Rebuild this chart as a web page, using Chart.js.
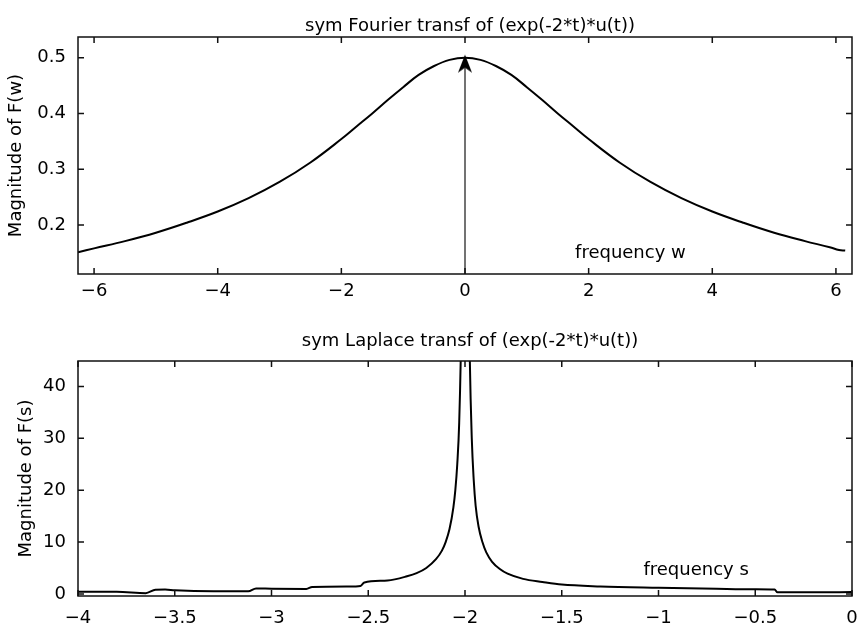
<!DOCTYPE html>
<html>
<head>
<meta charset="utf-8">
<script src="https://cdn.jsdelivr.net/npm/chart.js@4.4.1/dist/chart.umd.min.js"></script>
<style>
    body { margin: 0; background: #fff; overflow: hidden; }
    .panel { position: absolute; left: 0; width: 857px; }
    #topPanel { top: 0; height: 310px; }
    #bottomPanel { top: 310px; height: 317px; }
</style>
</head>
<body>
<div class="panel" id="topPanel"><canvas id="fourierChart"></canvas></div>
<div class="panel" id="bottomPanel"><canvas id="laplaceChart"></canvas></div>
<script>
const fontFamily = '"DejaVu Sans", sans-serif';

// top plot: |F(w)|
const wValues = [-6.26, -6, -5.5, -5, -4.5, -4, -3.5, -3, -2.5, -2, -1.75, -1.5, -1.25, -1, -0.75, -0.5, -0.25, 0,
    0.25, 0.5, 0.75, 1, 1.25, 1.5, 1.75, 2, 2.5, 3, 3.5, 4, 4.5, 5, 5.5, 5.9, 6.05, 6.15];
const fourierMag = [0.151, 0.158, 0.171, 0.186, 0.204, 0.224, 0.248, 0.277, 0.312, 0.354, 0.377, 0.400, 0.424, 0.447, 0.469, 0.485, 0.496, 0.500,
    0.496, 0.485, 0.469, 0.447, 0.424, 0.400, 0.377, 0.354, 0.312, 0.277, 0.248, 0.224, 0.204, 0.186, 0.171, 0.160, 0.155, 0.154];
const arrowW = [0, 0];
const arrowMag = [0.112, 0.5];
const wTicks = [-6, -4, -2, 0, 2, 4, 6];
const fourierTicks = [0.2, 0.3, 0.4, 0.5];

// bottom plot: |F(s)|
const sValues = [-4, -3.8, -3.65, -3.6, -3.55, -3.5, -3.3, -3.12, -3.08, -3.0, -2.82, -2.79, -2.6, -2.54, -2.52, -2.4,
    -2.3, -2.25, -2.2, -2.15, -2.12, -2.1, -2.08, -2.06, -2.05, -2.04, -2.03, -2.02, -2.0,
    -1.975, -1.965, -1.955, -1.945, -1.93, -1.91, -1.89, -1.86, -1.82, -1.78, -1.7, -1.6, -1.5, -1.3,
    -1.0, -0.7, -0.5, -0.4, -0.385, -0.2, 0];
const laplaceMag = [0.4, 0.4, 0.15, 0.8, 0.85, 0.7, 0.5, 0.5, 1.05, 1.0, 0.95, 1.35, 1.45, 1.55, 2.2, 2.6,
    3.4, 4.0, 5.0, 6.7, 8.3, 10, 12.5, 16.7, 20, 25, 33, 50, 120,
    45, 30, 22, 17, 13, 10, 8, 6.2, 4.8, 3.9, 2.9, 2.3, 1.8, 1.45,
    1.2, 1.0, 0.9, 0.85, 0.3, 0.3, 0.35];
const sTicks = [-4, -3.5, -3, -2.5, -2, -1.5, -1, -0.5, 0];
const laplaceTicks = [0, 10, 20, 30, 40];

function toPoints(xs, ys) {
    return xs.map((v, i) => ({ x: v, y: ys[i] }));
}

function formatTick(value) {
    return String(value).replace('-', '\u2212');
}

function makeArrowHead() {
    const c = document.createElement('canvas');
    c.width = 14;
    c.height = 36;
    const g = c.getContext('2d');
    g.fillStyle = '#000';
    g.beginPath();
    g.moveTo(7, 15);
    g.lineTo(14, 33);
    g.lineTo(7, 28);
    g.lineTo(0, 33);
    g.closePath();
    g.fill();
    return c;
}

const framePlugin = {
    id: 'frame',
    afterDraw(chart, args, opts) {
        const { ctx, chartArea: a, scales: { x, y } } = chart;
        ctx.save();
        ctx.strokeStyle = '#111';
        ctx.lineWidth = 1.5;
        ctx.strokeRect(a.left, a.top, a.width, a.height);
        ctx.beginPath();
        x.ticks.forEach(t => {
            const px = x.getPixelForValue(t.value);
            ctx.moveTo(px, a.bottom); ctx.lineTo(px, a.bottom - 6);
            ctx.moveTo(px, a.top); ctx.lineTo(px, a.top + 6);
        });
        y.ticks.forEach(t => {
            const py = y.getPixelForValue(t.value);
            ctx.moveTo(a.left, py); ctx.lineTo(a.left + 6, py);
            ctx.moveTo(a.right, py); ctx.lineTo(a.right - 6, py);
        });
        ctx.stroke();

        ctx.font = '18px ' + fontFamily;
        ctx.fillStyle = '#000';
        ctx.textBaseline = 'alphabetic';
        ctx.textAlign = 'center';
        ctx.fillText(opts.title, (a.left + a.right) / 2 + 5, opts.titleY);
        ctx.textAlign = 'left';
        ctx.fillText(opts.note, x.getPixelForValue(opts.noteX), y.getPixelForValue(opts.noteY));
        ctx.restore();
    }
};

function buildOptions(cfg) {
    return {
        responsive: true,
        maintainAspectRatio: false,
        animation: false,
        layout: { autoPadding: false, padding: { top: cfg.top, right: 5, bottom: 0, left: 0 } },
        plugins: {
            legend: { display: false },
            tooltip: { enabled: false },
            frame: cfg.frame
        },
        scales: {
            x: {
                type: 'linear',
                min: cfg.xMin,
                max: cfg.xMax,
                grid: { display: false, drawTicks: false },
                border: { display: false },
                afterBuildTicks: s => { s.ticks = cfg.xTicks.map(v => ({ value: v })); },
                afterFit: s => {
                    s.height = cfg.xHeight;
                    s.paddingLeft = 0;
                    s.paddingRight = 0;
                },
                ticks: {
                    autoSkip: false,
                    maxRotation: 0,
                    padding: cfg.xPad,
                    color: '#000',
                    font: { family: fontFamily, size: 18 },
                    callback: formatTick
                }
            },
            y: {
                min: cfg.yMin,
                max: cfg.yMax,
                grid: { display: false, drawTicks: false },
                border: { display: false },
                afterBuildTicks: s => { s.ticks = cfg.yTicks.map(v => ({ value: v })); },
                afterFit: s => {
                    s.width = 78;
                    s.paddingTop = 0;
                    s.paddingBottom = 0;
                },
                ticks: {
                    autoSkip: false,
                    padding: 12,
                    color: '#000',
                    font: { family: fontFamily, size: 18 },
                    callback: formatTick
                },
                title: {
                    display: true,
                    text: cfg.yTitle,
                    color: '#000',
                    font: { family: fontFamily, size: 18 },
                    padding: { top: cfg.yTitlePad, bottom: 0 }
                }
            }
        }
    };
}

document.addEventListener('DOMContentLoaded', () => {
    new Chart(document.getElementById('fourierChart'), {
        type: 'line',
        data: {
            datasets: [
                {
                    data: toPoints(wValues, fourierMag),
                    borderColor: '#000',
                    borderWidth: 2,
                    pointRadius: 0,
                    tension: 0.4,
                    clip: 0
                },
                {
                    data: toPoints(arrowW, arrowMag),
                    borderColor: '#444',
                    borderWidth: 1.5,
                    pointRadius: [0, 10],
                    pointStyle: [false, makeArrowHead()],
                    clip: false
                }
            ]
        },
        options: buildOptions({
            top: 37, xHeight: 36, xPad: 7,
            xMin: -6.26, xMax: 6.26, xTicks: wTicks,
            yMin: 0.112, yMax: 0.537, yTicks: fourierTicks,
            yTitle: 'Magnitude of F(w)', yTitlePad: 6,
            frame: { title: 'sym Fourier transf of (exp(-2*t)*u(t))', titleY: 31, note: 'frequency w', noteX: 1.78, noteY: 0.140 }
        }),
        plugins: [framePlugin]
    });

    new Chart(document.getElementById('laplaceChart'), {
        type: 'line',
        data: {
            datasets: [
                {
                    data: toPoints(sValues, laplaceMag),
                    borderColor: '#000',
                    borderWidth: 2,
                    pointRadius: 0,
                    cubicInterpolationMode: 'monotone',
                    clip: 0
                }
            ]
        },
        options: buildOptions({
            top: 51, xHeight: 31, xPad: 12,
            xMin: -4, xMax: 0, xTicks: sTicks,
            yMin: -0.4, yMax: 44.9, yTicks: laplaceTicks,
            yTitle: 'Magnitude of F(s)', yTitlePad: 16,
            frame: { title: 'sym Laplace transf of (exp(-2*t)*u(t))', titleY: 36, note: 'frequency s', noteX: -1.078, noteY: 3.65 }
        }),
        plugins: [framePlugin]
    });
});
</script>
</body>
</html>
